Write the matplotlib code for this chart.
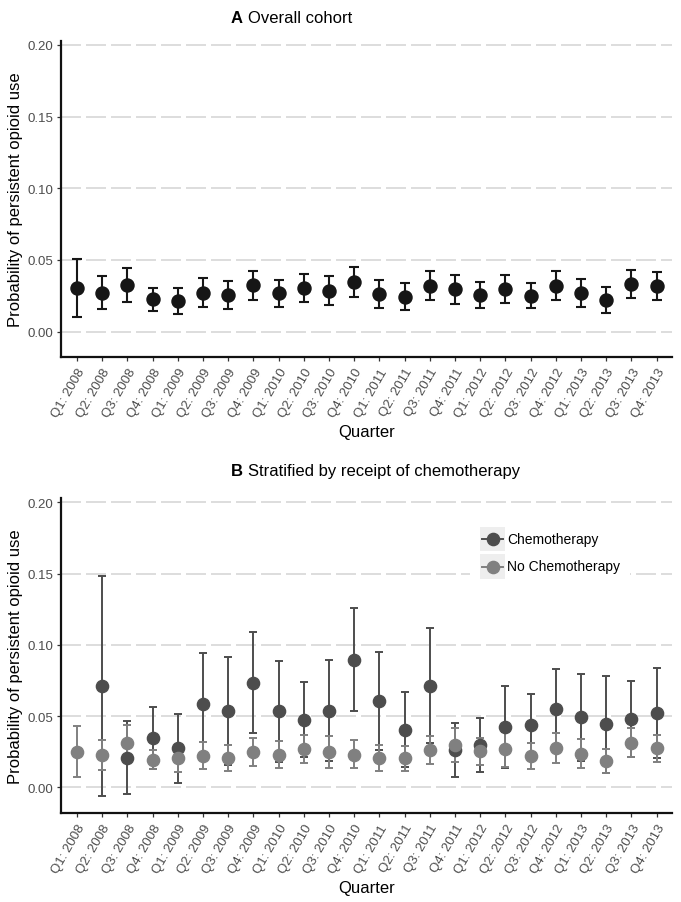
import numpy as np
import matplotlib
matplotlib.use("Agg")
import matplotlib.pyplot as plt
from matplotlib.patches import Rectangle
from matplotlib.lines import Line2D

plt.rcParams['font.family'] = ['Liberation Sans', 'DejaVu Sans']
plt.rcParams['lines.scale_dashes'] = False

# ---------------- data ----------------
quarters = ["Q1: 2008", "Q2: 2008", "Q3: 2008", "Q4: 2008",
            "Q1: 2009", "Q2: 2009", "Q3: 2009", "Q4: 2009",
            "Q1: 2010", "Q2: 2010", "Q3: 2010", "Q4: 2010",
            "Q1: 2011", "Q2: 2011", "Q3: 2011", "Q4: 2011",
            "Q1: 2012", "Q2: 2012", "Q3: 2012", "Q4: 2012",
            "Q1: 2013", "Q2: 2013", "Q3: 2013", "Q4: 2013"]

overall_est = [0.0304, 0.0273, 0.0327, 0.0226, 0.0212, 0.0273, 0.0255, 0.0322,
               0.0269, 0.0304, 0.0285, 0.0346, 0.0262, 0.0243, 0.0320, 0.0297,
               0.0255, 0.0297, 0.0250, 0.0320, 0.0271, 0.0222, 0.0334, 0.0320]
overall_lo = [0.0102, 0.0156, 0.0210, 0.0145, 0.0126, 0.0175, 0.0160, 0.0222,
              0.0175, 0.0208, 0.0184, 0.0245, 0.0168, 0.0151, 0.0220, 0.0196,
              0.0163, 0.0201, 0.0166, 0.0220, 0.0170, 0.0133, 0.0236, 0.0222]
overall_hi = [0.0506, 0.0390, 0.0446, 0.0308, 0.0306, 0.0372, 0.0350, 0.0425,
              0.0360, 0.0404, 0.0390, 0.0449, 0.0358, 0.0337, 0.0420, 0.0395,
              0.0344, 0.0395, 0.0339, 0.0420, 0.0367, 0.0309, 0.0430, 0.0414]

nan = float('nan')
chemo_est = [nan, 0.0713, 0.0209, 0.0343, 0.0273, 0.0587, 0.0537, 0.0734,
             0.0533, 0.0474, 0.0537, 0.0895, 0.0605, 0.0405, 0.0712, 0.0262,
             0.0294, 0.0422, 0.0434, 0.0548, 0.0492, 0.0443, 0.0478, 0.0523]
chemo_lo = [nan, -0.0058, -0.0049, 0.0126, 0.0032, 0.0232, 0.0158, 0.0381,
            0.0180, 0.0212, 0.0184, 0.0533, 0.0263, 0.0143, 0.0308, 0.0072,
            0.0105, 0.0135, 0.0214, 0.0266, 0.0186, 0.0102, 0.0212, 0.0209]
chemo_hi = [nan, 0.1484, 0.0467, 0.0560, 0.0514, 0.0942, 0.0916, 0.1087,
            0.0886, 0.0736, 0.0890, 0.1257, 0.0947, 0.0667, 0.1116, 0.0452,
            0.0483, 0.0709, 0.0654, 0.0830, 0.0798, 0.0784, 0.0744, 0.0837]

nochemo_est = [0.0250, 0.0229, 0.0311, 0.0194, 0.0203, 0.0222, 0.0203, 0.0250,
               0.0229, 0.0269, 0.0250, 0.0229, 0.0203, 0.0203, 0.0264, 0.0297,
               0.0252, 0.0266, 0.0220, 0.0278, 0.0236, 0.0185, 0.0313, 0.0273]
nochemo_lo = [0.0070, 0.0124, 0.0185, 0.0126, 0.0110, 0.0129, 0.0112, 0.0152,
              0.0136, 0.0171, 0.0138, 0.0133, 0.0112, 0.0114, 0.0166, 0.0180,
              0.0157, 0.0145, 0.0129, 0.0173, 0.0136, 0.0102, 0.0210, 0.0180]
nochemo_hi = [0.0432, 0.0334, 0.0437, 0.0262, 0.0296, 0.0315, 0.0294, 0.0348,
              0.0322, 0.0367, 0.0362, 0.0332, 0.0294, 0.0292, 0.0362, 0.0414,
              0.0347, 0.0387, 0.0311, 0.0383, 0.0336, 0.0268, 0.0416, 0.0366]

yticks = [0.00, 0.05, 0.10, 0.15, 0.20]
ytick_labels = ["0.00", "0.05", "0.10", "0.15", "0.20"]
series_names = ["Chemotherapy", "No Chemotherapy"]
title_a = ("A", "Overall cohort")
title_b = ("B", "Stratified by receipt of chemotherapy")
x_title = "Quarter"
y_title = "Probability of persistent opioid use"

# ---------------- layout ----------------
W, H = 681, 903
fig = plt.figure(figsize=(W / 100, H / 100), dpi=100)


def fx(p):
    return p / W


def fy(p):
    return 1 - p / H


L, R = 61.3, 672.3
axA = fig.add_axes([fx(L), fy(358.3), (R - L) / W, (358.3 - 41.7) / H])
axB = fig.add_axes([fx(L), fy(814.3), (R - L) / W, (814.3 - 499.0) / H])

x = np.arange(len(quarters))
c_top = '#161616'
c_chemo = '#4d4d4d'
c_nochemo = '#808080'


def style(ax, ylim):
    ax.set_xlim(-0.62, len(quarters) - 1 + 0.62)
    ax.set_ylim(*ylim)
    ax.set_yticks(yticks)
    ax.set_yticklabels(ytick_labels)
    ax.set_xticks(x)
    ax.set_xticklabels(quarters, rotation=60, ha='right', va='top',
                       rotation_mode='anchor')
    for s in ['top', 'right']:
        ax.spines[s].set_visible(False)
    for s in ['left', 'bottom']:
        ax.spines[s].set_linewidth(1.6)
        ax.spines[s].set_color('#111111')
    ax.tick_params(length=2.9, width=0.9, color='#333333',
                   labelcolor='#4d4d4d', labelsize=9.5)
    ax.tick_params(axis='y', pad=2.9)
    ax.tick_params(axis='x', pad=3.4)
    ax.yaxis.grid(True, color='#d3d3d3', linewidth=1.1,
                  linestyle=(0, (14.4, 3.6)))
    ax.set_axisbelow(True)
    ax.set_xlabel(x_title, fontsize=12, color='black')
    ax.set_ylabel(y_title, fontsize=12, color='black')
    ax.xaxis.set_label_coords(0.5, -(425.0 - 358.3) / (358.3 - 41.7))
    ax.yaxis.set_label_coords(-(61.3 - 23.0) / (R - L), 0.5)


style(axA, (-0.0179, 0.203))
style(axB, (-0.01825, 0.203))


def err(est, lo, hi):
    est = np.asarray(est, float)
    return [est - np.asarray(lo, float), np.asarray(hi, float) - est]


# Panel A
axA.errorbar(x, overall_est, yerr=err(overall_est, overall_lo, overall_hi),
             fmt='none', ecolor=c_top, elinewidth=1.5, capsize=3.4,
             capthick=1.5, zorder=2)
axA.plot(x, overall_est, 'o', color=c_top, markersize=9.4, zorder=3)

# Panel B
axB.errorbar(x, chemo_est, yerr=err(chemo_est, chemo_lo, chemo_hi),
             fmt='none', ecolor=c_chemo, elinewidth=1.4, capsize=2.6,
             capthick=1.4, zorder=2)
axB.errorbar(x, nochemo_est, yerr=err(nochemo_est, nochemo_lo, nochemo_hi),
             fmt='none', ecolor=c_nochemo, elinewidth=1.4, capsize=2.6,
             capthick=1.4, zorder=2)
axB.plot(x, chemo_est, 'o', color=c_chemo, markersize=8.8, zorder=3)
axB.plot(x, nochemo_est, 'o', color=c_nochemo, markersize=8.8, zorder=4)

# Titles (bold letter + regular text), left aligned
fig.canvas.draw()
renderer = fig.canvas.get_renderer()
for (letter, txt), base in ((title_a, 23.0), (title_b, 476.0)):
    t = fig.text(fx(231), fy(base), letter, fontsize=12, fontweight='bold',
                 ha='left', va='baseline')
    bb = t.get_window_extent(renderer)
    fig.text((bb.x1 + 5.0) / W, fy(base), txt, fontsize=12,
             ha='left', va='baseline')

# Legend (drawn manually in figure pixel coordinates)
fig.add_artist(Rectangle((fx(470), fy(582)), 160 / W, 57 / H,
                         transform=fig.transFigure, facecolor='white',
                         edgecolor='none', zorder=5))
for name, col, yc in ((series_names[0], c_chemo, 540.0),
                      (series_names[1], c_nochemo, 567.5)):
    fig.add_artist(Rectangle((fx(480), fy(yc + 12.3)), 25 / W, 24.6 / H,
                             transform=fig.transFigure, facecolor='#eeeeee',
                             edgecolor='none', zorder=6))
    fig.add_artist(Line2D([fx(482), fx(503)], [fy(yc), fy(yc)],
                          transform=fig.transFigure, color=col, lw=1.4,
                          zorder=7))
    fig.add_artist(Line2D([fx(492.5)], [fy(yc)], transform=fig.transFigure,
                          marker='o', color=col, markersize=8.8, zorder=8))
    fig.text(fx(507), fy(yc), name, fontsize=10, ha='left', va='center',
             color='black', zorder=9)

fig.savefig('out.png', dpi=100)
